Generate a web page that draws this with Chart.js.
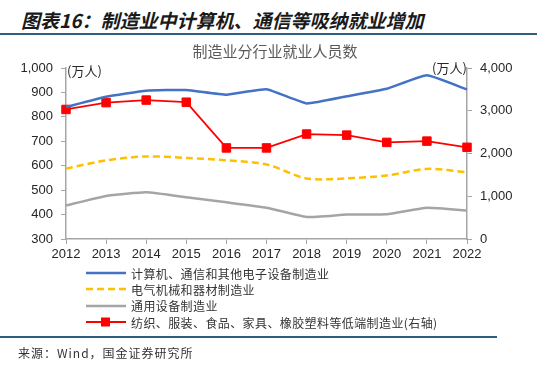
<!DOCTYPE html>
<html>
<head>
<meta charset="utf-8">
<script src="https://cdn.jsdelivr.net/npm/chart.js@4/dist/chart.umd.min.js"></script>
<style>
  body { margin: 0; width: 550px; height: 373px; background: #fff; position: relative; overflow: hidden;
         font-family: "Liberation Sans", "Noto Sans CJK SC", sans-serif; }
  #title { position: absolute; left: 21px; top: 6px; font: italic bold 19px "Noto Sans CJK SC", sans-serif; color: #1a1a1a; white-space: nowrap; }
  .rule { position: absolute; left: 0; height: 2px; background: #2f5f80; }
  #wrap { position: absolute; left: 0; top: 38px; width: 550px; height: 228px; }
  .unit { position: absolute; font: 13px "Noto Sans CJK SC", sans-serif; color: #262626; }
  #legend { position: absolute; left: 86px; top: 265px; }
  .item { height: 16.3px; display: flex; align-items: center; font: 12px "Noto Sans CJK SC", sans-serif; color: #333; white-space: nowrap; letter-spacing: 0.4px; }
  .item canvas { margin-right: 5px; }
  #source { position: absolute; left: 18px; top: 344px; font: 12px "Noto Sans CJK SC", sans-serif; color: #333; letter-spacing: 1px; }
</style>
</head>
<body>
<div id="title">图表16：制造业中计算机、通信等吸纳就业增加</div>
<div class="rule" style="top:33px; width:537px;"></div>
<div id="wrap"><canvas id="chart"></canvas></div>
<div class="unit" style="left:67px; top:61px;">(万人)</div>
<div class="unit" style="left:432px; top:58px;">(万人)</div>
<div id="legend"></div>
<div class="rule" style="top:336px; width:497px;"></div>
<div id="source">来源：Wind，国金证券研究所</div>

<script>
const years = ['2012', '2013', '2014', '2015', '2016', '2017', '2018', '2019', '2020', '2021', '2022'];
const computerComm = [840, 882, 907, 910, 891, 913, 855, 884, 915, 970, 912];
const electrical = [588, 622, 638, 632, 622, 605, 548, 548, 560, 587, 573];
const generalEquip = [437, 476, 491, 471, 450, 428, 390, 400, 401, 428, 417];
const lowEnd = [3030, 3190, 3250, 3200, 2130, 2130, 2455, 2430, 2260, 2290, 2145];

const tickFont = { family: '"Liberation Sans", Arial, sans-serif', size: 13 };
const axisGrey = '#a6a6a6';

const chartConfig = {
    type: 'line',
    data: {
        labels: years,
        datasets: [
            {
                label: '计算机、通信和其他电子设备制造业',
                data: computerComm,
                borderColor: '#4472c4',
                borderWidth: 2.5,
                pointRadius: 0,
                tension: 0.12,
                yAxisID: 'y'
            },
            {
                label: '电气机械和器材制造业',
                data: electrical,
                borderColor: '#ffc000',
                borderWidth: 2.5,
                borderDash: [7, 4],
                pointRadius: 0,
                tension: 0.3,
                yAxisID: 'y'
            },
            {
                label: '通用设备制造业',
                data: generalEquip,
                borderColor: '#a5a5a5',
                borderWidth: 2.5,
                pointRadius: 0,
                tension: 0.12,
                yAxisID: 'y'
            },
            {
                label: '纺织、服装、食品、家具、橡胶塑料等低端制造业(右轴)',
                data: lowEnd,
                borderColor: '#ff0000',
                backgroundColor: '#ff0000',
                borderWidth: 1.8,
                pointStyle: 'rect',
                pointRadius: 6,
                pointBorderWidth: 1,
                tension: 0,
                yAxisID: 'y1'
            }
        ]
    },
    options: {
        responsive: true,
        maintainAspectRatio: false,
        animation: false,
        locale: 'en-US',
        layout: { padding: 0 },
        plugins: {
            legend: { display: false },
            tooltip: { enabled: false },
            title: {
                display: true,
                text: '制造业分行业就业人员数',
                color: '#595959',
                font: { family: '"Noto Sans CJK SC", sans-serif', size: 15, weight: 'normal' },
                padding: { top: 4, bottom: 8 }
            }
        },
        scales: {
            x: {
                offset: false,
                grid: { display: true, drawOnChartArea: false, tickLength: 5, color: axisGrey },
                border: { color: axisGrey, width: 1.5 },
                ticks: { font: tickFont, color: '#262626', padding: 3, maxRotation: 0, autoSkip: false },
                afterFit: (scale) => { scale.height = 27; }
            },
            y: {
                position: 'left',
                min: 300,
                max: 1000,
                ticks: { stepSize: 100, font: tickFont, color: '#262626', padding: 8 },
                grid: { display: true, drawOnChartArea: false, tickLength: 5, color: axisGrey },
                border: { color: axisGrey, width: 1.5 },
                afterFit: (scale) => { scale.width = 66; }
            },
            y1: {
                position: 'right',
                min: 0,
                max: 4000,
                ticks: { stepSize: 1000, font: tickFont, color: '#262626', padding: 8 },
                grid: { display: true, drawOnChartArea: false, tickLength: 5, color: axisGrey },
                border: { color: axisGrey, width: 1.5 },
                afterFit: (scale) => { scale.width = 83; }
            }
        }
    }
};

const chart = new Chart(document.getElementById('chart').getContext('2d'), chartConfig);

// legend built from the datasets, one row each
const legendBox = document.getElementById('legend');
chart.data.datasets.forEach((ds) => {
    const row = document.createElement('div');
    row.className = 'item';
    const sw = document.createElement('canvas');
    sw.width = 40; sw.height = 12;
    const c = sw.getContext('2d');
    c.strokeStyle = ds.borderColor;
    c.lineWidth = ds.borderWidth;
    c.setLineDash(ds.borderDash || []);
    c.beginPath(); c.moveTo(0, 6); c.lineTo(40, 6); c.stroke();
    if (ds.pointStyle === 'rect') {
        c.fillStyle = ds.backgroundColor;
        c.fillRect(15, 1.5, 9, 9);
    }
    row.appendChild(sw);
    const span = document.createElement('span');
    span.textContent = ds.label;
    row.appendChild(span);
    legendBox.appendChild(row);
});
</script>
</body>
</html>
